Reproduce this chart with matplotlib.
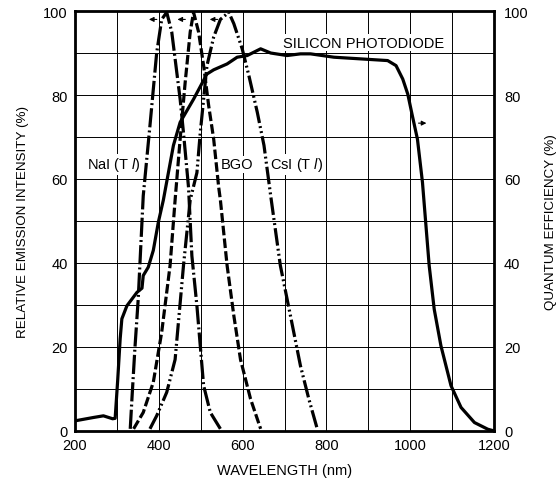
import matplotlib.pyplot as plt

plt.rcParams['font.family'] = ['Liberation Sans', 'DejaVu Sans']
plt.rcParams['mathtext.fontset'] = 'custom'
plt.rcParams['mathtext.it'] = 'Liberation Sans:italic'
plt.rcParams['mathtext.rm'] = 'Liberation Sans'

# Silicon photodiode quantum efficiency (right axis, same 0-100 scale)
si_nm = [200, 244, 268, 290, 296, 302, 308, 312, 324, 348, 360, 363, 375, 387, 399, 411,
         435, 451, 483, 515, 531, 563, 587, 611, 643, 667, 706, 738, 762, 818, 882, 946,
         966, 982, 994, 1005, 1017, 1029, 1045, 1057, 1073, 1097, 1121, 1153, 1185, 1200]
si_qe = [2.4, 3.2, 3.6, 2.9, 3.0, 12, 22, 26.7, 29.8, 33, 34, 37, 39, 43, 49.7, 55,
         68, 73.5, 79, 85, 86, 87.4, 89, 89.4, 91, 90, 89.4, 89.8, 89.8, 89, 88.6, 88.2,
         87, 83.8, 80.2, 75, 69.5, 59.2, 39.4, 29, 20.3, 10.8, 5.6, 2, 0.4, 0]

# NaI(Tl) emission
nai_nm = [332, 336, 343, 351, 363, 379, 395, 407, 419, 431, 439, 451, 459, 471, 479, 491, 507, 523, 547]
nai_em = [0.5, 7.6, 19.5, 31.4, 56, 72.7, 90, 98, 99.7, 95, 88.6, 79, 71, 58, 41.7, 29.8, 10.8, 4.4, 0.5]

# BGO emission
bgo_nm = [340, 363, 387, 407, 427, 439, 451, 463, 475, 483, 495, 507, 519, 531, 543, 547, 563, 579, 595, 619, 643]
bgo_em = [0.5, 4.4, 11.6, 23.5, 39.4, 55, 69.5, 83, 95, 99.7, 95, 87, 77.5, 69.5, 58, 55, 39.4, 27.5, 17, 7.6, 0.5]

# CsI(Tl) emission
csi_nm = [379, 395, 419, 439, 459, 475, 491, 499, 507, 515, 531, 547, 567, 579, 599, 615, 635, 651, 667, 690, 714, 738, 758, 778]
csi_em = [0.5, 3.6, 9.2, 17, 39.4, 55, 61.5, 71, 79, 87, 93.8, 98, 99.7, 97, 91, 84.6, 75.9, 68, 56, 39.4, 27.5, 15.5, 7.6, 0.5]

fig = plt.figure(figsize=(5.59, 4.81), dpi=100)
ax = fig.add_axes([0.134, 0.102, 0.750, 0.873])

lw = 2.3
ax.plot(si_nm, si_qe, color='black', lw=lw)
ax.plot(nai_nm, nai_em, color='black', lw=lw, dashes=(6, 1.0, 0.6, 1.0))
ax.plot(bgo_nm, bgo_em, color='black', lw=lw, dashes=(3, 1.0))
ax.plot(csi_nm, csi_em, color='black', lw=lw, dashes=(5.5, 1.0, 0.6, 1.0, 0.6, 1.0))

# arrows pointing to the relevant axis
for x0 in [402, 470, 547]:
    ax.annotate('', xy=(x0 - 32, 98), xytext=(x0, 98),
                arrowprops=dict(arrowstyle='-|>', color='black', lw=0.8, mutation_scale=7))
ax.annotate('', xy=(1045, 73.3), xytext=(1013, 73.3),
            arrowprops=dict(arrowstyle='-|>', color='black', lw=0.8, mutation_scale=7))

box = dict(facecolor='white', edgecolor='none', pad=1)
ax.text(889, 92.5, 'SILICON PHOTODIODE', ha='center', va='center', fontsize=10.5, bbox=box)
ax.text(293, 63.5, r'NaI (T $\mathit{l}$)', ha='center', va='center', fontsize=10.5, bbox=box)
ax.text(587, 63.5, 'BGO', ha='center', va='center', fontsize=10.5, bbox=box, zorder=1)
ax.text(729, 63.5, r'CsI (T $\mathit{l}$)', ha='center', va='center', fontsize=10.5, bbox=box, zorder=1)

ax.set_xlim(200, 1200)
ax.set_ylim(0, 100)
ax.set_xticks(range(200, 1201, 200))
ax.set_xticks(range(200, 1201, 100), minor=True)
ax.set_yticks(range(0, 101, 20))
ax.set_yticks(range(0, 101, 10), minor=True)
ax.set_axisbelow(True)
ax.grid(True, which='both', color='black', lw=0.7)
ax.tick_params(which='both', length=0, labelsize=10.5, pad=5)
for s in ax.spines.values():
    s.set_linewidth(2)

ax2 = ax.twinx()
ax2.set_ylim(0, 100)
ax2.set_yticks(range(0, 101, 20))
ax2.tick_params(length=0, labelsize=10.5, pad=7)
ax2.set_ylabel('QUANTUM EFFICIENCY (%)', fontsize=9.6, labelpad=12)

ax.set_xlabel('WAVELENGTH (nm)', fontsize=10.5, labelpad=8)
ax.set_ylabel('RELATIVE EMISSION INTENSITY (%)', fontsize=9.6, labelpad=10)

fig.savefig('out.png', dpi=100)
